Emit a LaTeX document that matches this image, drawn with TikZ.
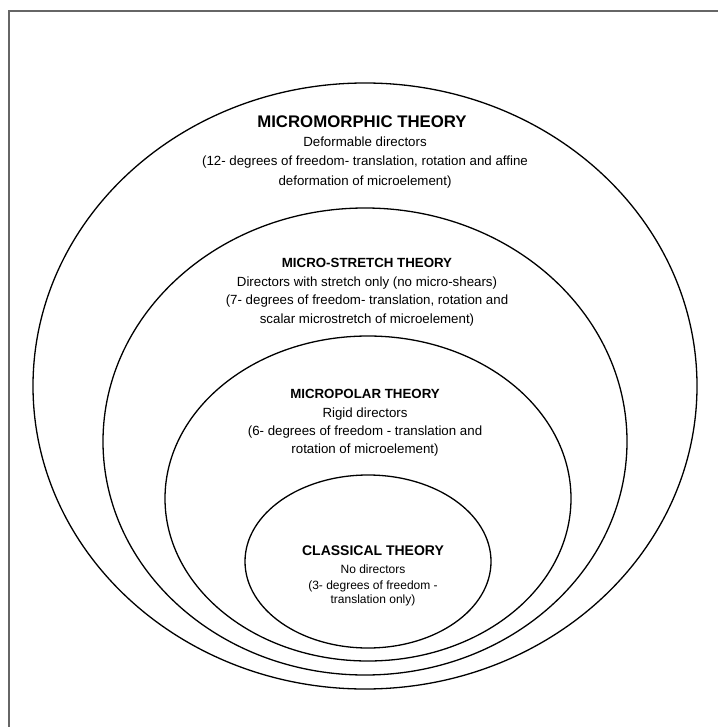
\documentclass[tikz,border=0pt]{standalone}
\usepackage{fontspec}
\setmainfont{Liberation Sans}
\begin{document}
\begin{tikzpicture}[x=1pt,y=-1pt,
  ell/.style={draw=black,line width=1.3pt},
  txt/.style={anchor=base,inner sep=0pt,font=\fontsize{13.3}{16}\selectfont},
  ttl/.style={anchor=base,inner sep=0pt,font=\fontsize{13.3}{16}\selectfont\bfseries},
  small/.style={anchor=base,inner sep=0pt,font=\fontsize{12}{14}\selectfont}]
\useasboundingbox (0,0) rectangle (718,727);
\draw[black!60,line width=2.4pt] (8.8,727) -- (8.8,10.8) -- (718,10.8);
\draw[ell] (365,386) ellipse [x radius=332, y radius=303];
\draw[ell] (365,441.5) ellipse [x radius=262, y radius=233.5];
\draw[ell] (368,498.5) ellipse [x radius=203, y radius=162.5];
\draw[ell] (368,561.5) ellipse [x radius=123, y radius=86.5];
% micromorphic
\node[ttl,font=\fontsize{16.8}{20}\selectfont\bfseries] (m1) at (362,128) {MICROMORPHIC THEORY};
\node[txt] (m2) at (365,147) {Deformable directors};
\node[txt] (m3) at (365,166) {(12- degrees of freedom- translation, rotation and affine};
\node[txt] (m4) at (365,186) {deformation of microelement)};
% micro-stretch
\node[ttl] (s1) at (367,267) {MICRO-STRETCH THEORY};
\node[txt] (s2) at (367,286) {Directors with stretch only (no micro-shears)};
\node[txt] (s3) at (367,304) {(7- degrees of freedom- translation, rotation and};
\node[txt] (s4) at (367,323) {scalar microstretch of microelement)};
% micropolar
\node[ttl] (p1) at (365,398) {MICROPOLAR THEORY};
\node[txt] (p2) at (365,417) {Rigid directors};
\node[txt] (p3) at (365,435) {(6- degrees of freedom - translation and};
\node[txt] (p4) at (365,453) {rotation of microelement)};
% classical
\node[ttl,font=\fontsize{14}{16}\selectfont\bfseries] (c1) at (373,555) {CLASSICAL THEORY};
\node[small] (c2) at (373,573) {No directors};
\node[small] (c3) at (373,589) {(3- degrees of freedom -};
\node[small] (c4) at (373,603) {translation only)};
\end{tikzpicture}
\end{document}
